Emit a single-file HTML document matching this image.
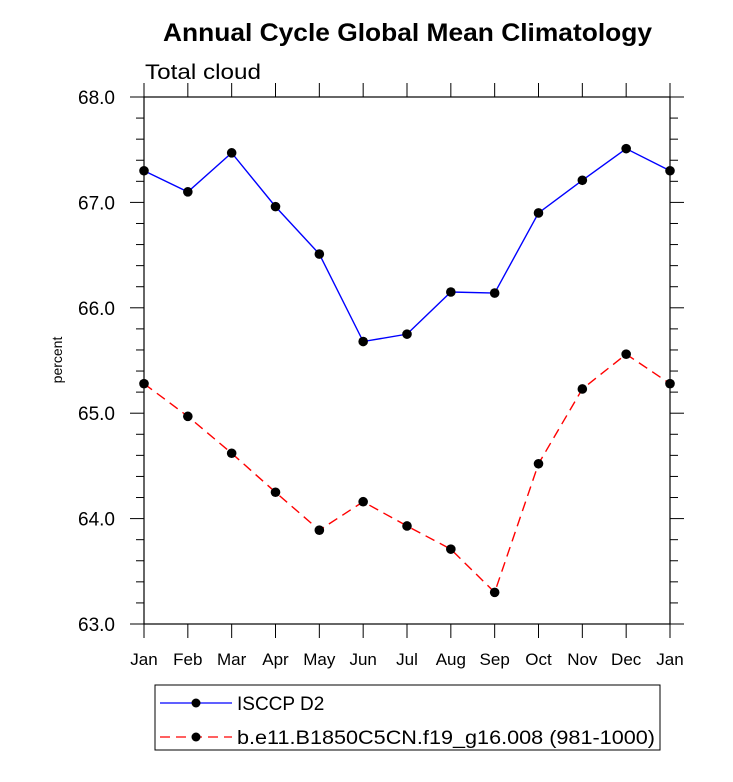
<!DOCTYPE html>
<html><head><meta charset="utf-8"><style>
body{margin:0;background:#fff;}
svg text{font-family:"Liberation Sans",sans-serif;fill:#000;}
</style></head><body>
<svg id="chart" width="733" height="777">
<text x="163" y="41" textLength="489" lengthAdjust="spacingAndGlyphs" font-size="25" font-weight="bold">Annual Cycle Global Mean Climatology</text>
<text x="145" y="79" textLength="116" lengthAdjust="spacingAndGlyphs" font-size="21">Total cloud</text>
<text transform="translate(62,360) rotate(-90)" text-anchor="middle" font-size="14">percent</text>
<g id="axes"></g>
<g id="series"></g>
<rect x="155" y="685" width="505" height="65" fill="none" stroke="#000" stroke-width="1"/>
<g>
<line x1="160" y1="703" x2="232" y2="703" stroke="#0000ff" stroke-width="1.3"/>
<circle cx="196" cy="703" r="4.5" fill="#000"/>
<text x="237" y="710" font-size="19">ISCCP D2</text></g>
<g>
<line x1="160" y1="737" x2="232" y2="737" stroke="#ff0000" stroke-width="1.3" stroke-dasharray="10,6"/>
<circle cx="196" cy="737" r="4.5" fill="#000"/>
<text x="237" y="744" font-size="19.5" textLength="418" lengthAdjust="spacingAndGlyphs">b.e11.B1850C5CN.f19_g16.008 (981-1000)</text></g>
</svg>
<script>
const months=["Jan","Feb","Mar","Apr","May","Jun","Jul","Aug","Sep","Oct","Nov","Dec","Jan"];
const isccp=[67.3,67.1,67.47,66.96,66.51,65.68,65.75,66.15,66.14,66.9,67.21,67.51,67.3];
const model=[65.28,64.97,64.62,64.25,63.89,64.16,63.93,63.71,63.30,64.52,65.23,65.56,65.28];
const yTicks=[63,64,65,66,67,68];
const NS="http://www.w3.org/2000/svg";
const L=144,R=670,T=97,B=624,ymin=63,ymax=68;
const xs=i=>L+(R-L)*i/(months.length-1);
const ys=v=>B-(B-T)*(v-ymin)/(ymax-ymin);
function mk(tag,at,parent){const e=document.createElementNS(NS,tag);for(const k in at)e.setAttribute(k,at[k]);parent.appendChild(e);return e;}
const ax=document.getElementById('axes');
const frame=mk('rect',{x:L,y:T,width:R-L,height:B-T,fill:'none',stroke:'#000','stroke-width':1.2},ax);


for(let v=ymin;v<=ymax+1e-9;v+=0.2){
 const y=ys(v);const major=Math.abs(v-Math.round(v))<1e-6;const len=major?14:8;
 mk('line',{x1:L,y1:y,x2:L-len,y2:y,stroke:'#000'},ax);
 mk('line',{x1:R,y1:y,x2:R+len,y2:y,stroke:'#000'},ax);
}
yTicks.forEach(v=>{const t=mk('text',{x:115,y:ys(v)+7,'text-anchor':'end','font-size':19},ax);t.textContent=v.toFixed(1);
 
 });
months.forEach((m,i)=>{const x=xs(i);
 mk('line',{x1:x,y1:B,x2:x,y2:B+14,stroke:'#000'},ax);
 mk('line',{x1:x,y1:T,x2:x,y2:T-14,stroke:'#000'},ax);
 const t=mk('text',{x:x,y:665,'text-anchor':'middle','font-size':17},ax);t.textContent=m;
 
 });
const sg=document.getElementById('series');
function series(vals,color,dash,name){
 const p=mk('polyline',{points:vals.map((v,i)=>xs(i)+','+ys(v)).join(' '),fill:'none',stroke:color,'stroke-width':1.4},sg);
 if(dash)p.setAttribute('stroke-dasharray',dash);
 
 
 vals.forEach((v,i)=>{const c=mk('circle',{cx:xs(i),cy:ys(v),r:4.8,fill:'#000'},sg);
  
  });
}
series(isccp,'#0000ff',null,'isccp');
series(model,'#ff0000','10,6','model');
</script>
</body></html>
